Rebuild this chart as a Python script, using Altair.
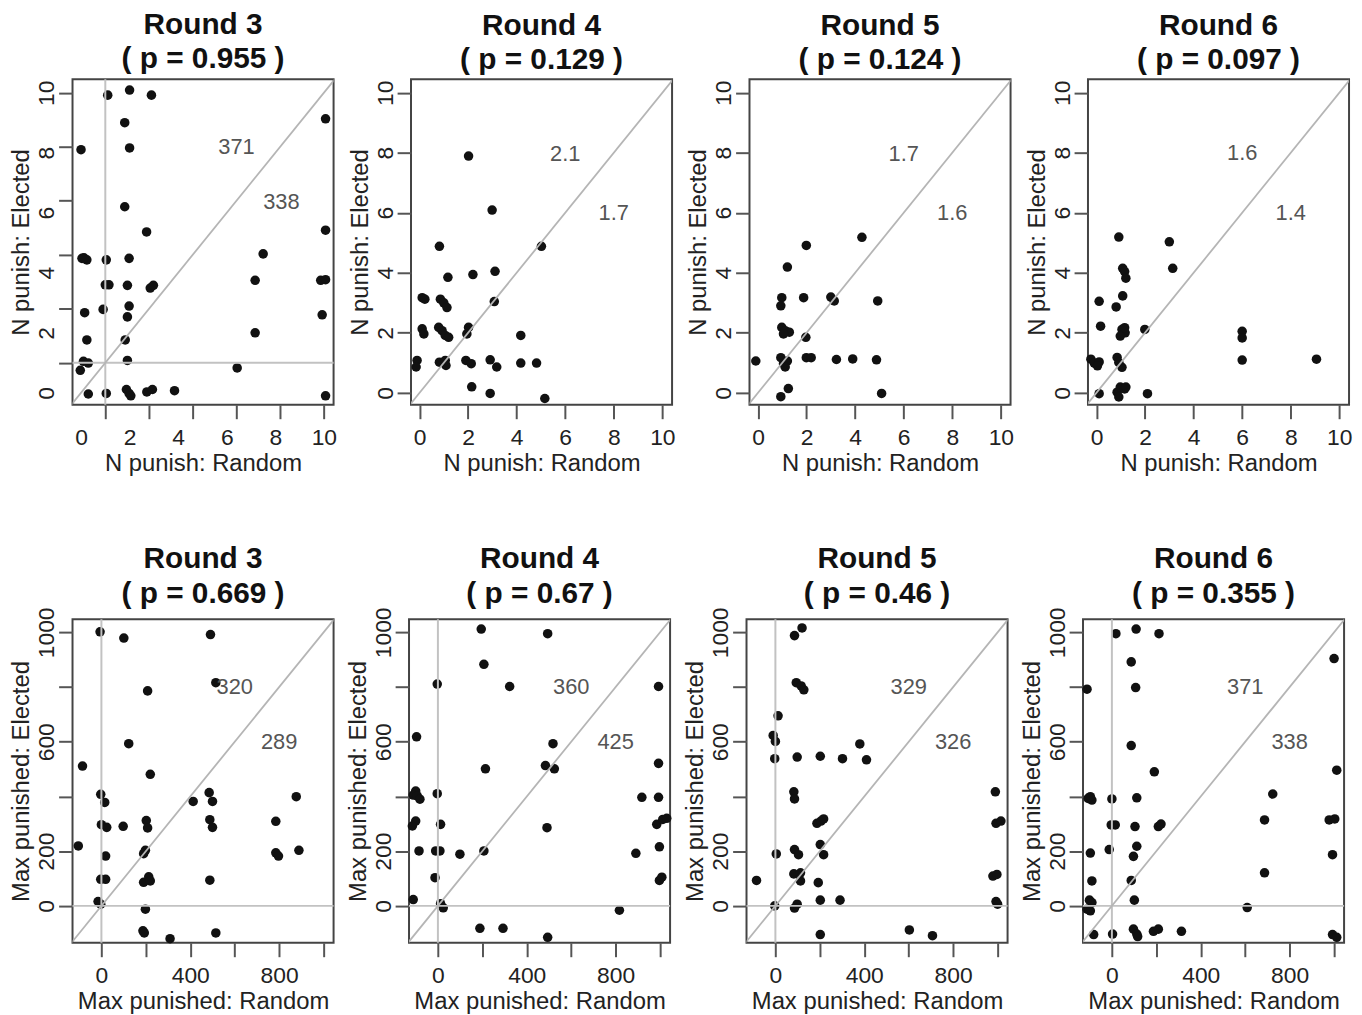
import altair as alt
import pandas as pd

FONT = "Liberation Sans"

# ---------------- data: N punish (top row) ----------------
r3_x = [1.1, 2.0, 2.9, 1.8, 2.0, 0.0, 1.8, 2.7, 10.07, 10.07, 7.5, 7.17, 9.87, 10.07, 9.93, 7.17, 6.43, 10.07,
        0.04, 0.24, 0.12, 1.04, 1.98, 1.0, 1.15, 1.91, 2.85, 2.98, 0.91, 1.98, 1.91, 0.15, 0.24, 1.82,
        0.1, 0.3, -0.03, 1.91, 0.3, 1.04, 1.87, 1.98, 2.05, 2.71, 2.94, 3.85]
r3_y = [9.92, 10.09, 9.92, 9.0, 8.16, 8.1, 6.2, 5.36, 9.13, 5.42, 4.63, 3.75, 3.75, 3.77, 2.6, 2.0, 0.83, -0.1,
        4.48, 4.43, 4.5, 4.43, 4.48, 3.6, 3.6, 3.58, 3.49, 3.58, 2.78, 2.89, 2.53, 2.67, 1.76, 1.76,
        1.05, 0.99, 0.75, 1.08, -0.04, -0.02, 0.11, -0.02, -0.1, 0.03, 0.11, 0.07]

r4_x = [2.02, 2.99, 0.82, 5.02, 1.17, 2.2, 3.11, 0.11, 0.22, 0.86, 1.0, 1.13, 3.08, 0.11, 0.18, 0.79, 0.93,
        1.06, 1.2, 2.02, 1.95, 4.17, -0.1, -0.14, 0.82, 1.06, 1.09, 1.91, 2.13, 2.91, 3.18, 4.17, 4.82,
        2.15, 2.91, 5.16]
r4_y = [7.89, 6.09, 4.88, 4.88, 3.85, 3.94, 4.05, 3.17, 3.12, 3.12, 3.0, 2.84, 3.04, 2.13, 1.96, 2.18, 2.07,
        1.91, 1.85, 2.18, 1.96, 1.91, 1.08, 0.86, 1.02, 1.08, 0.91, 1.08, 0.97, 1.1, 0.86, 0.99, 0.99,
        0.2, -0.02, -0.19]

r5_x = [4.28, 1.99, 1.21, 0.98, 0.94, 1.88, 3.0, 3.14, 4.93, 0.98, 1.12, 1.29, 1.05, 1.97, -0.09, 0.94, 1.05,
        1.21, 1.12, 1.99, 2.19, 3.23, 3.9, 4.88, 1.25, 0.94, 5.09]
r5_y = [5.18, 4.91, 4.19, 3.17, 2.9, 3.17, 3.19, 3.06, 3.06, 2.18, 2.07, 2.02, 1.96, 1.85, 1.06, 1.17, 0.97,
        1.06, 0.86, 1.17, 1.17, 1.11, 1.13, 1.1, 0.14, -0.13, -0.02]

r6_x = [0.92, 3.0, 3.14, 1.08, 1.16, 1.21, 1.08, 0.11, 0.81, 0.17, 1.05, 1.18, 0.98, 1.16, 1.99, 6.0, 6.0, 6.0,
        9.06, -0.23, -0.09, 0.11, 0.04, 0.85, 0.92, 1.05, 0.11, 0.85, 0.98, 1.16, 0.92, 1.21, 2.1]
r6_y = [5.19, 5.03, 4.15, 4.15, 4.04, 3.82, 3.23, 3.05, 2.86, 2.22, 2.11, 2.0, 1.89, 2.17, 2.11, 2.05, 1.83, 1.09,
        1.12, 1.12, 0.99, 1.03, 0.9, 1.18, 1.01, 0.85, -0.03, 0.02, 0.19, 0.13, -0.14, 0.19, -0.03]

# ---------------- data: Max punished (bottom row) ----------------
m3_x = [-6, 101, 491, 515, 208, 123, -85, 220, -3, 15, 413, 485, 500, 877, 0, 24, 98, 202, 208, 488, 500, 785,
        -104, 19, 198, 190, 785, 797, 889, -3, 19, 190, 213, 220, 488, -15, -3, 198, 187, 193, 309, 515]
m3_y = [1002, 979, 992, 816, 786, 593, 511, 481, 408, 378, 382, 414, 382, 399, 297, 287, 291, 312, 285, 315, 287,
        309, 219, 182, 203, 191, 194, 182, 203, 97, 97, 86, 106, 91, 94, 16, 6, -12, -91, -99, -120, -99]

m4_x = [195, 494, 207, -3, 323, 993, -96, 518, 214, 484, 524, 993, -100, -111, -93, -81, -3, 918, 993, -100, -115,
        12, 491, 985, 1012, 1030, -85, -10, 9, 99, 207, 891, 997, -13, 997, 1008, -111, 12, 24, 817, 189, 293, 494]
m4_y = [1012, 995, 883, 811, 802, 802, 618, 593, 501, 513, 501, 521, 420, 405, 402, 390, 410, 397, 397, 310, 292,
        298, 286, 298, 316, 320, 201, 201, 201, 189, 201, 192, 216, 103, 93, 105, 23, 8, -7, -16, -82, -82, -115]

m5_x = [86, 120, 94, 116, 128, 12, -10, 0, 380, -3, 98, 202, 302, 410, 83, 86, 990, 187, 205, 217, 993, 1015, 4,
        86, 104, 202, 217, 83, 113, 113, 193, 979, 997, -85, -3, 98, 86, 202, 291, 993, 1000, 202, 603, 707]
m5_y = [988, 1016, 816, 804, 790, 695, 623, 601, 592, 538, 544, 547, 538, 534, 417, 391, 417, 302, 310, 318, 302,
        310, 190, 206, 187, 224, 187, 117, 121, 91, 85, 109, 115, 93, 0, 6, -8, 21, 21, 16, 6, -105, -88, -109]

m6_x = [18, 109, 212, 87, 1000, -112, 107, 87, 191, 1012, -107, -90, -97, 0, 112, 724, -3, 15, 104, 209, 221,
        687, 978, 1003, 112, -12, -97, 97, 993, -90, 87, 687, -101, -90, -112, -97, 101, 609, -82, 3, 97, 112,
        116, 187, 209, 313, 993, 1012]
m6_y = [995, 1012, 995, 892, 904, 792, 798, 586, 490, 496, 393, 387, 399, 391, 395, 409, 296, 296, 290, 290, 299,
        314, 314, 318, 218, 206, 193, 181, 187, 91, 93, 121, 21, 12, -12, -18, 21, -6, -105, -103, -85, -103,
        -112, -93, -85, -93, -105, -115]

# ---------------- titles / annotations ----------------
rounds = ["Round 3", "Round 4", "Round 5", "Round 6"]
p_top = ["( p = 0.955 )", "( p = 0.129 )", "( p = 0.124 )", "( p = 0.097 )"]
p_bot = ["( p = 0.669 )", "( p = 0.67 )", "( p = 0.46 )", "( p = 0.355 )"]
notes_top = [[("371", 6.4, 8.2), ("338", 8.25, 6.35)],
             [("2.1", 6.0, 7.95), ("1.7", 8.0, 6.0)],
             [("1.7", 6.0, 7.95), ("1.6", 8.0, 6.0)],
             [("1.6", 6.0, 8.0), ("1.4", 8.0, 6.0)]]
notes_bot = [[("320", 600, 800), ("289", 800, 600)],
             [("360", 600, 800), ("425", 800, 600)],
             [("329", 600, 800), ("326", 800, 600)],
             [("371", 600, 800), ("338", 800, 600)]]

top_ticks = [0, 2, 4, 6, 8, 10]
r3_ticks = [0, 1, 2, 2.8, 4, 4.6, 6, 6.4, 8, 8.2, 10]
bot_ticks = [0, 200, 400, 600, 800, 1000]

TOP_XDOM = [-0.35, 10.4]
TOP_YDOM = [-0.4, 10.45]
BOT_XDOM = [-130, 1045]
BOT_YDOM = [-135, 1048]

W = 263
H_TOP = 328
H_BOT = 326


def panel(xs, ys, title, ptxt, notes, xdom, ydom, xtitle, ytitle, xkw, ykw, h, toff,
          vline=None, hline=None):
    pts = pd.DataFrame({"x": xs, "y": ys})
    X = alt.X("x:Q", scale=alt.Scale(domain=xdom, nice=False, zero=False), axis=alt.Axis(title=xtitle, **xkw))
    Y = alt.Y("y:Q", scale=alt.Scale(domain=ydom, nice=False, zero=False), axis=alt.Axis(title=ytitle, **ykw))
    layers = [alt.Chart(pts).mark_circle(size=92, color="#111111", opacity=1).encode(x=X, y=Y)]
    line_col = "#c2c2c2"
    if vline is not None:
        layers.append(alt.Chart(pd.DataFrame({"x": [vline]}))
                      .mark_rule(color=line_col, strokeWidth=2).encode(x=X))
    if hline is not None:
        layers.append(alt.Chart(pd.DataFrame({"y": [hline]}))
                      .mark_rule(color=line_col, strokeWidth=2).encode(y=Y))
    lo = min(xdom[0], ydom[0])
    hi = max(xdom[1], ydom[1])
    layers.append(alt.Chart(pd.DataFrame({"x": [lo, hi], "y": [lo, hi]}))
                  .mark_line(color="#b5b5b5", strokeWidth=1.8, clip=True).encode(x=X, y=Y))
    ndf = pd.DataFrame(notes, columns=["t", "x", "y"])
    layers.append(alt.Chart(ndf).mark_text(fontSize=22, color="#555555", font=FONT)
                  .encode(x=X, y=Y, text="t:N"))
    return alt.layer(*layers).properties(width=W, height=h,
                                         title=alt.TitleParams([title, ptxt], offset=toff))


top_kw = dict(values=top_ticks, format="d")
r3_kw = dict(values=r3_ticks, format="d",
             labelExpr="datum.value % 2 == 0 ? datum.label : ''",
             tickOpacity={"condition": {"test": "datum.value % 2 == 0 && datum.value < 10", "value": 0},
                          "value": 1})
botx_kw = dict(values=bot_ticks, format="d", labelExpr="datum.value % 400 == 0 ? datum.label : ''")
boty_kw = dict(values=bot_ticks, format="d",
               labelExpr="indexof([0, 200, 600, 1000], datum.value) >= 0 ? datum.label : ''")

top_data = [(r3_x, r3_y), (r4_x, r4_y), (r5_x, r5_y), (r6_x, r6_y)]
bot_data = [(m3_x, m3_y), (m4_x, m4_y), (m5_x, m5_y), (m6_x, m6_y)]

top_panels = []
for i, (xs, ys) in enumerate(top_data):
    kw = r3_kw if i == 0 else top_kw
    top_panels.append(panel(xs, ys, rounds[i], p_top[i], notes_top[i], TOP_XDOM, TOP_YDOM,
                            "N punish: Random", "N punish: Elected", kw, kw, H_TOP, 4,
                            vline=1 if i == 0 else None, hline=1 if i == 0 else None))

bot_panels = []
for i, (xs, ys) in enumerate(bot_data):
    bot_panels.append(panel(xs, ys, rounds[i], p_bot[i], notes_bot[i], BOT_XDOM, BOT_YDOM,
                            "Max punished: Random", "Max punished: Elected", botx_kw, boty_kw, H_BOT, -2,
                            vline=0, hline=0))

chart = alt.vconcat(
    alt.hconcat(*top_panels, spacing=9),
    alt.hconcat(*bot_panels, spacing=9),
    spacing=67,
).configure_view(
    stroke="#444444", strokeWidth=2
).configure_axis(
    domain=False, grid=False, tickColor="#555555", tickWidth=2, tickSize=14,
    labelFont=FONT, labelFontSize=23, labelColor="#222222", labelFlush=False, labelOverlap=False,
    titleFont=FONT, titleFontSize=24, titleFontWeight="normal", titleColor="#222222",
).configure_axisY(
    labelAngle=270, labelAlign="center", labelBaseline="alphabetic", labelPadding=5, titlePadding=2,
).configure_axisX(
    labelPadding=8, titlePadding=2,
).configure_title(
    font=FONT, fontSize=30, fontWeight="bold", color="#111111", anchor="middle", frame="group",
    lineHeight=35,
).properties(background="white", padding={"top": -3, "left": 0, "right": 0, "bottom": 0})

chart.save("out.html", embed_options={"renderer": "svg", "actions": False})
